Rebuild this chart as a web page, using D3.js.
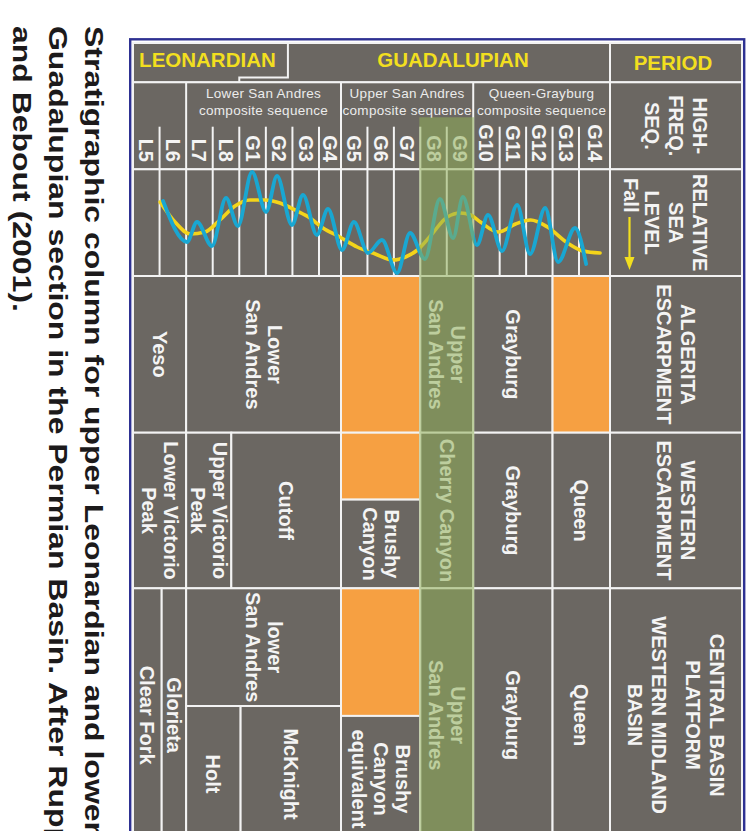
<!DOCTYPE html>
<html><head><meta charset="utf-8">
<script src="https://cdn.jsdelivr.net/npm/d3@7"></script>
<style>body{margin:0;background:#fff}svg{display:block}</style>
</head><body>
<svg id="chart" width="755" height="831"></svg>
<script>
// ---------------- DATA ----------------
const sequences = ["L5","L6","L7","L8","G1","G2","G3","G4","G5","G6","G7","G8","G9","G10","G11","G12","G13","G14"];
const periods = [
  {name:"LEONARDIAN", from:0, to:4, labelTo:5.83},
  {name:"GUADALUPIAN", from:4, to:18}
];
const compositeSequences = [
  {lines:["Lower San Andres","composite sequence"], from:2, to:8},
  {lines:["Upper San Andres","composite sequence"], from:8, to:13},
  {lines:["Queen-Grayburg","composite sequence"], from:13, to:18}
];
const rowHeaders = [
  {row:"period", lines:["PERIOD"]},
  {row:"seq", lines:["HIGH-","FREQ.","SEQ."]},
  {row:"sea", lines:["RELATIVE","SEA","LEVEL"]},
  {row:"alg", lines:["ALGERITA","ESCARPMENT"]},
  {row:"wes", lines:["WESTERN","ESCARPMENT"]},
  {row:"cbp", lines:["CENTRAL BASIN","PLATFORM","","WESTERN MIDLAND","BASIN"]}
];
const formations = [
  {row:"alg", name:["Yeso"], from:0, to:2},
  {row:"alg", name:["Lower","San Andres"], from:2, to:8},
  {row:"alg", hiatus:true, from:8, to:11},
  {row:"alg", name:["Upper","San Andres"], from:11, to:13},
  {row:"alg", name:["Grayburg"], from:13, to:16},
  {row:"alg", hiatus:true, from:16, to:18},
  {row:"wes", name:["Lower Victorio","Peak"], from:0, to:2},
  {row:"wes", name:["Upper Victorio","Peak"], from:2, to:3.7},
  {row:"wes", name:["Cutoff"], from:3.7, to:8},
  {row:"wes", hiatus:true, from:8, to:11, part:[0,0.43]},
  {row:"wes", name:["Brushy","Canyon"], from:8, to:11, part:[0.43,1]},
  {row:"wes", name:["Cherry Canyon"], from:11, to:13},
  {row:"wes", name:["Grayburg"], from:13, to:16},
  {row:"wes", name:["Queen"], from:16, to:18},
  {row:"cbp", name:["Clear Fork"], from:0, to:1.08},
  {row:"cbp", name:["Glorieta"], from:1.08, to:2},
  {row:"cbp", name:["lower","San Andres"], from:2, to:8, part:[0,0.464]},
  {row:"cbp", name:["Holt"], from:2, to:4.05, part:[0.464,1]},
  {row:"cbp", name:["McKnight"], from:4.05, to:8, part:[0.464,1]},
  {row:"cbp", hiatus:true, from:8, to:11, part:[0,0.503]},
  {row:"cbp", name:["Brushy","Canyon","equivalent"], from:8, to:11, part:[0.503,1]},
  {row:"cbp", name:["Upper","San Andres"], from:11, to:13},
  {row:"cbp", name:["Grayburg"], from:13, to:16},
  {row:"cbp", name:["Queen"], from:16, to:18}
];
// relative sea level: [sequence position, level] (higher = higher sea level)
const seaLevelLongTerm = [
  [1.02,73],[1.58,53],[2.15,41],[2.71,43],[3.27,55],[3.84,69],[4.40,75],[4.97,75],[5.53,72],
  [6.17,64],[6.66,57],[7.18,47],[7.95,38],[8.61,28],[9.30,21],[9.98,15],[10.44,18],[10.89,25],
  [11.38,39],[12.02,58],[12.52,62],[12.90,60],[13.27,53],[13.95,43],[14.60,51],[15.17,55],
  [15.81,48],[16.57,32],[17.13,24],[17.68,22]
];
const seaLevelHighFreq = [
  [1.13,74],[2.03,33],[2.41,53],[2.97,29],[3.50,77],[3.95,49],[4.48,103],[5.01,63],[5.42,99],
  [5.98,50],[6.40,80],[6.92,40],[7.41,66],[8.04,25],[8.49,53],[9.02,22],[9.55,35],[10.12,2],
  [10.61,42],[11.17,16],[11.74,76],[12.24,37],[12.61,78],[13.14,30],[13.56,60],[14.09,24],
  [14.66,70],[15.15,21],[15.72,67],[16.21,13],[16.85,47],[17.23,11]
];
const highlight = {from:11, to:13}; // G8-G9
const captionLines = [
  "Stratigraphic column for upper Leonardian and lower",
  "Guadalupian section in the Permian Basin. After Ruppel",
  "and Bebout (2001)."
];

// ---------------- LAYOUT ----------------
const FONT = "'Liberation Sans', Arial, Helvetica, sans-serif";
const GREY = "#6b6762", ORANGE = "#f6a042", LINE = "#f3f3f3", YELLOW = "#f2df1f";
const colX0 = 133, colX1 = 610, rightX = 742, topY = 43, bottomY = 842;
const rowY = {period:[43,82.3], seq:[82.3,169.3], sea:[169.3,276], alg:[276,432.7], wes:[432.7,588.3], cbp:[588.3,842]};

const x = d3.scaleLinear().domain([0,7,8,17,18]).range([colX0,319,341,579,colX1]);
const y = d3.scaleLinear().domain([0,100]).range([275,175]);

const svg = d3.select("#chart");
svg.append("rect").attr("width",755).attr("height",831).attr("fill","#fff");

// blue frame
svg.append("rect").attr("x",130.2).attr("y",39.3).attr("width",614).attr("height",880)
  .attr("fill","none").attr("stroke","#2e3192").attr("stroke-width",2.4);
svg.append("rect").attr("x",colX0).attr("y",topY).attr("width",rightX-colX0).attr("height",bottomY-topY)
  .attr("fill",GREY).attr("stroke",LINE).attr("stroke-width",2);

function cell(x0,y0,x1,y1,fill){
  svg.append("rect").attr("x",x0).attr("y",y0).attr("width",x1-x0).attr("height",y1-y0)
    .attr("fill",fill).attr("stroke",LINE).attr("stroke-width",2);
}
function vtext(cx, cy, lines, o={}){
  const size=o.size||20, lh=o.lh||22;
  let offs=[], acc=0;
  lines.forEach((l,i)=>{ if(l===""){acc+=0.4*lh; offs.push(null);} else {offs.push(acc); acc+=lh;} });
  const span = acc-lh;
  const g = svg.append("g").attr("transform",`translate(${cx},${cy}) rotate(90)`);
  const t = g.append("text").attr("font-family",FONT).attr("font-weight","bold").attr("font-size",size)
    .attr("fill",o.fill||"#f4f4f4").attr("text-anchor",o.anchor||"middle").attr("dominant-baseline","central");
  lines.forEach((l,i)=>{ if(offs[i]===null) return;
    t.append("tspan").attr("x",0).attr("y",offs[i]-span/2).text(l); });
  return g;
}

// header row
cell(colX0,rowY.period[0],colX1,rowY.period[1],GREY);
svg.append("path").attr("d",`M${x(periods[0].labelTo)},${topY}V77.5H${x(periods[0].to)}V${rowY.period[1]}`)
  .attr("fill","none").attr("stroke",LINE).attr("stroke-width",2);
svg.append("text").attr("x",(x(0)+x(periods[0].labelTo))/2-3).attr("y",59)
  .attr("font-family",FONT).attr("font-weight","bold").attr("font-size",20.5).attr("fill",YELLOW)
  .attr("text-anchor","middle").attr("dominant-baseline","central").text(periods[0].name);
svg.append("text").attr("x",(x(periods[0].labelTo)+x(18))/2+4).attr("y",59)
  .attr("font-family",FONT).attr("font-weight","bold").attr("font-size",20.5).attr("fill",YELLOW)
  .attr("text-anchor","middle").attr("dominant-baseline","central").text(periods[1].name);

// sequence row
cell(colX0,rowY.seq[0],colX1,rowY.seq[1],GREY);
const groupBounds = new Set(compositeSequences.map(c=>c.from));
d3.range(1,18).forEach(i=>{
  svg.append("line").attr("x1",x(i)).attr("x2",x(i))
    .attr("y1",groupBounds.has(i)?rowY.seq[0]:126.7).attr("y2",rowY.seq[1])
    .attr("stroke",LINE).attr("stroke-width",2);
});
compositeSequences.forEach(c=>{
  const t = svg.append("text").attr("font-family",FONT).attr("font-size",13.5).attr("fill","#ececec")
    .attr("text-anchor","middle").attr("letter-spacing",0.3);
  c.lines.forEach((l,i)=>t.append("tspan").attr("x",(x(c.from)+x(c.to))/2).attr("y",98+i*16.7).text(l));
});
sequences.forEach((s,i)=>{
  svg.append("g").attr("transform",`translate(${(x(i)+x(i+1))/2},162) rotate(90)`)
    .append("text").attr("font-family",FONT).attr("font-weight","bold").attr("font-size",20)
    .attr("fill","#f4f4f4").attr("text-anchor","end").attr("dominant-baseline","central").text(s);
});

// sea-level row
cell(colX0,rowY.sea[0],colX1,rowY.sea[1],GREY);
d3.range(1,18).forEach(i=>{
  svg.append("line").attr("x1",x(i)).attr("x2",x(i)).attr("y1",rowY.sea[0]).attr("y2",rowY.sea[1])
    .attr("stroke",LINE).attr("stroke-width",2);
});

// formations
formations.forEach(f=>{
  const [r0,r1] = rowY[f.row];
  const p = f.part||[0,1];
  const y0 = r0+(r1-r0)*p[0], y1 = r0+(r1-r0)*p[1];
  cell(x(f.from),y0,x(f.to),y1,f.hiatus?ORANGE:GREY);
});
formations.filter(f=>f.name).forEach(f=>{
  const [r0,r1] = rowY[f.row];
  const p = f.part||[0,1];
  const y0 = r0+(r1-r0)*p[0], y1 = r0+(r1-r0)*p[1];
  vtext((x(f.from)+x(f.to))/2,(y0+y1)/2,f.name,{lh:22});
});

// curves
const line = d3.line().x(d=>x(d[0])).y(d=>y(d[1])).curve(d3.curveMonotoneX);
svg.append("path").datum(seaLevelLongTerm).attr("d",line).attr("fill","none")
  .attr("stroke","#f4d41a").attr("stroke-width",3.6).attr("stroke-linecap","round");
svg.append("path").datum(seaLevelHighFreq).attr("d",line).attr("fill","none")
  .attr("stroke","#19a7d2").attr("stroke-width",3.8).attr("stroke-linecap","round");

// highlight band G8-G9
svg.append("rect").attr("x",x(highlight.from)-1).attr("y",117.3)
  .attr("width",x(highlight.to)-x(highlight.from)+2).attr("height",bottomY-117.3+1)
  .attr("fill","#8fae58").attr("opacity",0.55);

// period / header column
Object.keys(rowY).forEach(k=>cell(colX1,rowY[k][0],rightX,rowY[k][1],GREY));
rowHeaders.forEach(h=>{
  const [r0,r1] = rowY[h.row];
  const cx = (colX1+rightX)/2, cy=(r0+r1)/2;
  if(h.row==="period"){
    svg.append("text").attr("x",cx-3).attr("y",62).attr("font-family",FONT).attr("font-weight","bold")
      .attr("font-size",20.5).attr("fill",YELLOW).attr("text-anchor","middle")
      .attr("dominant-baseline","central").text(h.lines[0]);
  } else {
    vtext(cx, cy, h.lines, {lh:24.4});
  }
});
// "Fall" with arrow
svg.append("g").attr("transform",`translate(630.5,178) rotate(90)`)
  .append("text").attr("font-family",FONT).attr("font-weight","bold").attr("font-size",20)
  .attr("fill","#f4f4f4").attr("dominant-baseline","central").text("Fall");
svg.append("line").attr("x1",629.5).attr("x2",629.5).attr("y1",217).attr("y2",260)
  .attr("stroke",YELLOW).attr("stroke-width",2.2);
svg.append("path").attr("d","M624.5,257L634.5,257L629.5,270Z").attr("fill",YELLOW);

// caption
const cap = svg.append("g").attr("transform","translate(85,26) rotate(90) scale(1.23,1)");
captionLines.forEach((l,i)=>{
  cap.append("text").attr("x",0).attr("y",i*36).attr("font-family",FONT).attr("font-weight","bold")
    .attr("font-size",26).attr("fill","#1c1a1b").text(l);
});
</script>
</body></html>
